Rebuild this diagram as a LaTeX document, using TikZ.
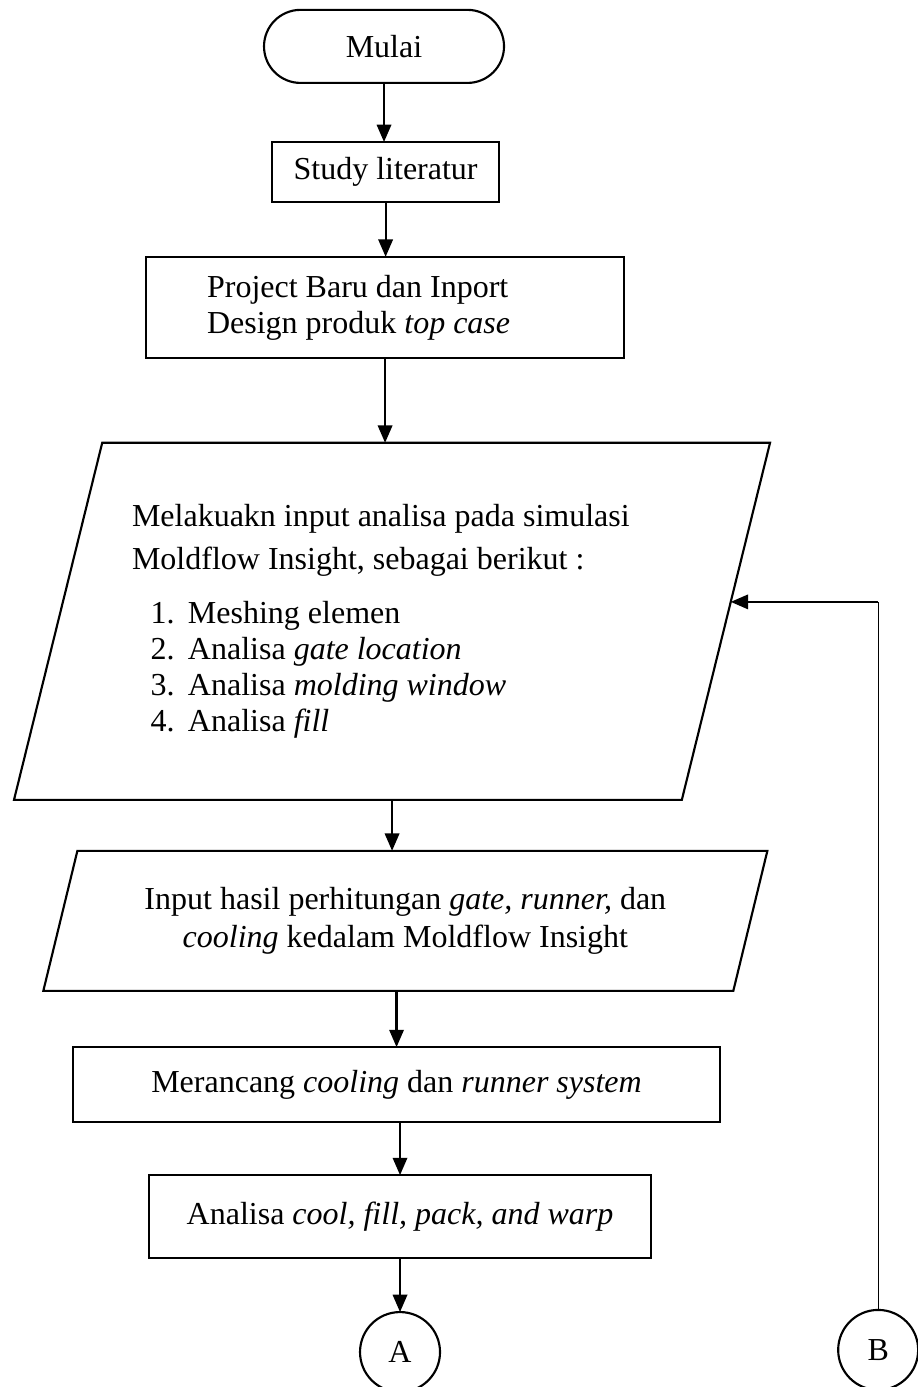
\documentclass[tikz,border=0pt]{standalone}
\usepackage{fontspec}
\setmainfont{Liberation Serif}
\usetikzlibrary{arrows.meta,shapes.geometric,calc}

\tikzset{
  flowbase/.style={draw=black, line width=0.8pt, font=\fontsize{12pt}{13.5pt}\selectfont, inner sep=0pt, outer sep=0pt},
  terminal/.style={flowbase, rectangle, rounded corners=13.7pt, minimum width=90pt, minimum height=27.4pt},
  procbox/.style={flowbase, rectangle, align=center},
  iobox/.style={flowbase, trapezium, trapezium left angle=76, trapezium right angle=104, trapezium stretches body},
  connect/.style={flowbase, circle, minimum size=30pt},
  arr/.style={line width=0.8pt, -{Triangle[length=6.5pt,width=5.4pt]}},
  thinline/.style={line width=0.4pt}
}

\begin{document}
\begin{tikzpicture}
  \useasboundingbox (0,0) rectangle (343.9pt,520.1pt);

  % main flow
  \node[terminal] (mulai) at (144pt,502.7pt) {Mulai};
  \node[procbox, minimum width=85.1pt, minimum height=22.5pt] (study) at (144.6pt,455.6pt) {Study literatur};
  \node[procbox, minimum width=179.3pt, minimum height=38pt, text width=133.5pt, align=flush left] (proj) at (144.4pt,404.8pt) {Project Baru dan Inport\\Design produk \textit{top case}};

  \node[iobox, minimum width=283.5pt, minimum height=133.9pt, inner ysep=22.5pt, text width=195pt, align=flush left] (par1) at (147pt,287.1pt)
    {Melakuakn input analisa pada simulasi\\[2.6pt]
     Moldflow Insight, sebagai berikut :\\[6.7pt]
     \hspace*{7pt}\makebox[14pt][l]{1.}Meshing elemen\\
     \hspace*{7pt}\makebox[14pt][l]{2.}Analisa \textit{gate location}\\
     \hspace*{7pt}\makebox[14pt][l]{3.}Analisa \textit{molding window}\\
     \hspace*{7pt}\makebox[14pt][l]{4.}Analisa \textit{fill}};

  \node[iobox, minimum width=271.5pt, minimum height=52.5pt, inner ysep=13pt, align=center] (par2) at (152pt,174.8pt)
    {Input hasil perhitungan \textit{gate, runner,} dan\\[0.8pt]\textit{cooling} kedalam Moldflow Insight};

  \node[procbox, minimum width=242.6pt, minimum height=28.1pt] (meran) at (148.7pt,113.4pt) {Merancang \textit{cooling} dan \textit{runner system}};
  \node[procbox, minimum width=188.3pt, minimum height=31.1pt] (anal) at (150pt,63.9pt) {Analisa \textit{cool, fill, pack, and warp}};

  % connectors A and B
  \node[connect] (conA) at (150pt,13.1pt) {A};
  \node[connect] (conB) at (329.3pt,13.9pt) {B};

  \draw[arr] (mulai.south) -- (mulai.south |- study.north);
  \draw[arr] (study.south) -- (study.south |- proj.north);
  \draw[arr] (proj.south) -- (proj.south |- par1.north);
  \draw[arr] (par1.south) -- (par1.south |- par2.north);
  \draw[arr] (meran.north |- par2.south) -- (meran.north);
  \draw[arr] (anal.north |- meran.south) -- (anal.north);
  \draw[arr] (anal.south) -- (conA.north);

  % loop back from B
  \coordinate (fbc) at (329.3pt,294.4pt);
  \coordinate (fbin) at ($(par1.top right corner)!0.4455!(par1.bottom right corner)$);
  \draw[thinline] (conB.north) -- (fbc);
  \draw[arr] (fbc) -- (fbc -| fbin);
\end{tikzpicture}
\end{document}
